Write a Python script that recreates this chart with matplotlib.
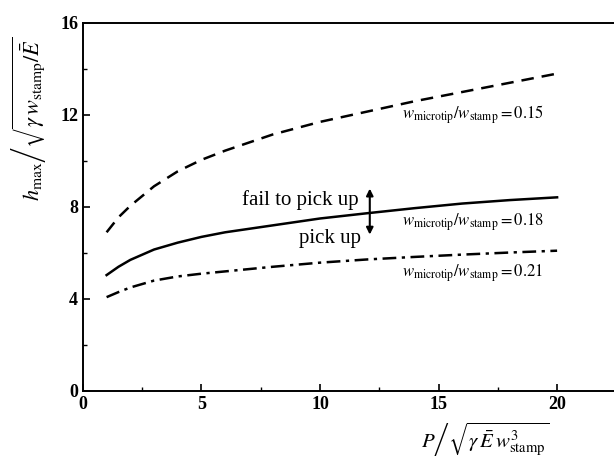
import matplotlib
matplotlib.use("Agg")
import matplotlib.pyplot as plt
from matplotlib.ticker import MultipleLocator

plt.rcParams["font.family"] = "Liberation Serif"
plt.rcParams["mathtext.fontset"] = "stix"

# values
p = [1, 1.5, 2, 3, 4, 5, 6, 8, 10, 12, 14, 16, 18, 20]
h_015 = [6.9, 7.55, 8.05, 8.9, 9.55, 10.05, 10.45, 11.15, 11.7, 12.15, 12.6, 13.0, 13.4, 13.8]
h_018 = [5.04, 5.4, 5.7, 6.15, 6.45, 6.7, 6.9, 7.2, 7.5, 7.73, 7.95, 8.15, 8.3, 8.42]
h_021 = [4.08, 4.3, 4.5, 4.8, 4.98, 5.1, 5.2, 5.4, 5.58, 5.72, 5.83, 5.93, 6.02, 6.1]
ratios = ["0.15", "0.18", "0.21"]
label_y = [12.0, 7.35, 5.13]

fig = plt.figure(figsize=(6.14, 4.58), dpi=100)
ax = fig.add_axes([0.135, 0.1463, 0.865, 0.8035])

ax.plot(p, h_015, color="black", lw=1.8, dashes=(5, 3.2))
ax.plot(p, h_018, color="black", lw=1.8)
ax.plot(p, h_021, color="black", lw=1.8, dashes=(5.5, 2.2, 1.3, 2.2))

for r, yy in zip(ratios, label_y):
    ax.text(13.45, yy, r"$w_{\mathrm{microtip}}/w_{\mathrm{stamp}}=" + r + "$",
            fontsize=12, va="center", ha="left")

ax.text(11.62, 8.3, "fail to pick up", fontsize=15, ha="right", va="center")
ax.text(11.75, 6.65, "pick up", fontsize=15, ha="right", va="center")
ax.annotate("", xy=(12.1, 8.8), xytext=(12.1, 6.8),
            arrowprops=dict(arrowstyle="<|-|>", color="black", lw=1.5,
                            mutation_scale=10, shrinkA=0, shrinkB=0))

ax.set_xlim(0, 22.4)
ax.set_ylim(0, 16)
ax.xaxis.set_major_locator(MultipleLocator(5))
ax.xaxis.set_minor_locator(MultipleLocator(2.5))
ax.yaxis.set_major_locator(MultipleLocator(4))
ax.yaxis.set_minor_locator(MultipleLocator(2))
ax.tick_params(which="both", direction="in", top=False, right=False)
ax.tick_params(which="major", length=5, width=1.2, labelsize=13)
ax.tick_params(which="minor", length=3, width=1.0)
for lab in ax.get_xticklabels() + ax.get_yticklabels():
    lab.set_fontweight("bold")
ax.spines["right"].set_visible(False)
for s in ["left", "bottom", "top"]:
    ax.spines[s].set_linewidth(1.4)

ax.set_xlabel(r"$P\left/\sqrt{\gamma\,\bar{E}\,w^{3}_{\mathrm{stamp}}}\right.$", fontsize=15)
ax.xaxis.set_label_coords(0.757, -0.08)
ax.set_ylabel(r"$h_{\max}\left/\sqrt{\gamma\,w_{\mathrm{stamp}}/\bar{E}}\right.$", fontsize=16)
ax.yaxis.set_label_coords(-0.065, 0.74)

fig.savefig("out.png", dpi=100)
